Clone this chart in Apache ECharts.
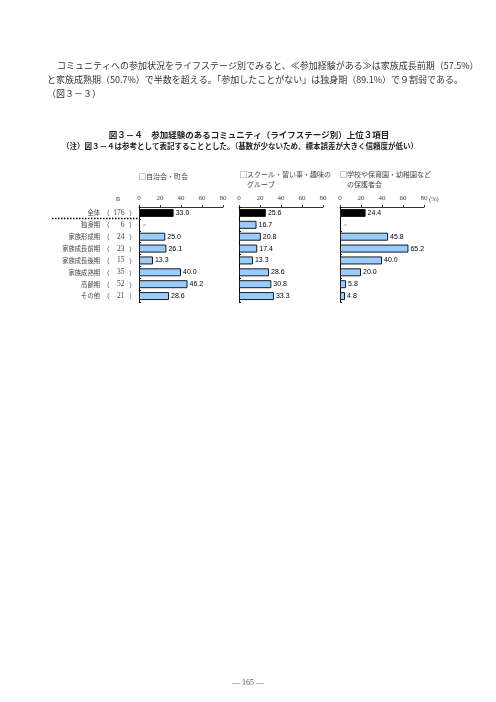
<!DOCTYPE html>
<html><head><meta charset="utf-8">
<script src="https://cdn.jsdelivr.net/npm/echarts@6/dist/echarts.min.js"></script>
<style>html,body{margin:0;padding:0;background:#fff;}#c{width:496px;height:702px;}</style>
</head><body><div id="c"></div>
<script>
// ---- data ----
const categories = ['全体','独身期','家族形成期','家族成長前期','家族成長後期','家族成熟期','高齢期','その他'];
const baseN = [176, 6, 24, 23, 15, 35, 52, 21];
const seriesNames = ['□自治会・町会', '□スクール・習い事・趣味の\n　グループ', '□学校や保育園・幼稚園など\n　の保護者会'];
const jichikai = [33.0, null, 25.0, 26.1, 13.3, 40.0, 46.2, 28.6];
const school   = [25.6, 16.7, 20.8, 17.4, 13.3, 28.6, 30.8, 33.3];
const hogosha  = [24.4, null, 45.8, 65.2, 40.0, 20.0, 5.8, 4.8];
const tickValues = [0, 20, 40, 60, 80];

const allSeries = [jichikai, school, hogosha];
const chart = echarts.init(document.getElementById('c'), null, {renderer: 'canvas'});

const gridLefts = [139, 239, 340];
const axisW = 84;
const gridTop = 207, gridH = 95;
const serif = '"Liberation Serif","DejaVu Serif",serif';
const cjk = '"Noto Sans CJK JP","Noto Sans",sans-serif';
const sans = '"Liberation Sans",Arial,sans-serif';

const grids = [], xAxes = [], yAxes = [], series = [];
const labelAxis = (margin, fmt, family, size) => ({
  type: 'category', gridIndex: 0, data: categories, inverse: true, position: 'left',
  axisLine: {show: false}, axisTick: {show: false}, splitLine: {show: false},
  axisLabel: {show: true, interval: 0, margin: margin, formatter: fmt, fontFamily: family, fontSize: size, color: '#444'}
});
const seriesYIndex = [];
gridLefts.forEach((l, i) => {
  grids.push({left: l, top: gridTop, width: axisW, height: gridH, containLabel: false});
  xAxes.push({
    type: 'value', gridIndex: i, position: 'top', min: tickValues[0], max: tickValues[tickValues.length-1], interval: 20,
    axisLine: {show: true, lineStyle: {color: '#333', width: 1}},
    axisTick: {show: true, length: 2, lineStyle: {color: '#333'}},
    splitLine: {show: false},
    axisLabel: {fontFamily: serif, fontSize: 7, color: '#444', margin: 5}
  });
  seriesYIndex.push(yAxes.length);
  yAxes.push({
    type: 'category', gridIndex: i, data: categories, inverse: true, position: 'left',
    axisLine: {show: true, lineStyle: {color: '#000', width: 1}},
    axisTick: {show: true, inside: true, length: 2, lineStyle: {color: '#000'}},
    axisLabel: i === 0 ? {show: true, interval: 0, margin: 39, fontFamily: cjk, fontSize: 6.3, color: '#444'} : {show: false}
  });
  if (i === 0) {
    yAxes.push(labelAxis(29.5, () => '（', cjk, 6.3));
    yAxes.push(labelAxis(14.5, (v, idx) => String(baseN[idx]), serif, 7.5));
    yAxes.push(labelAxis(3.5, () => '）', cjk, 6.3));
  }
});
gridLefts.forEach((l, i) => {
  series.push({
    type: 'bar', xAxisIndex: i, yAxisIndex: seriesYIndex[i], barWidth: 8,
    data: allSeries[i].map((v, k) => {
      if (v === null) return {value: 0, itemStyle: {borderWidth: 0}, label: {formatter: '－', color: '#333'}};
      return {value: v, itemStyle: {color: k === 0 ? '#000' : '#99ccff', borderColor: '#1a1a1a', borderWidth: 1}};
    }),
    label: {show: true, position: 'right', distance: 2, fontFamily: sans, fontSize: 7, color: '#000',
      formatter: p => p.value.toFixed(1)},
    animation: false
  });
});

function txt(t, x, y, family, size, opts) {
  return {type: 'text', x, y, style: Object.assign({text: t, fontFamily: family, fontSize: size, fill: '#333'}, opts || {})};
}

const graphics = [
  txt('コミュニティへの参加状況をライフステージ別でみると、≪参加経験がある≫は家族成長前期（57.5%）', 57, 66, cjk, 9, {textVerticalAlign: 'middle'}),
  txt('と家族成熟期（50.7%）で半数を超える。「参加したことがない」は独身期（89.1%）で９割弱である。', 47, 80, cjk, 9, {textVerticalAlign: 'middle'}),
  txt('（図３－３）', 47, 94, cjk, 9, {textVerticalAlign: 'middle'}),
  txt('図３－４　参加経験のあるコミュニティ（ライフステージ別）上位３項目', 249, 135, cjk, 8.5, {fontWeight: 'bold', textAlign: 'center', textVerticalAlign: 'middle', fill: '#222'}),
  txt('（注）図３－４は参考として表記することとした。（基数が少ないため、標本誤差が大きく信頼度が低い）', 240, 146, cjk, 7.5, {fontWeight: 'bold', textAlign: 'center', textVerticalAlign: 'middle', fill: '#222'}),
  txt(seriesNames[0], 139, 176, cjk, 7, {textVerticalAlign: 'middle', fill: '#444'}),
  txt(seriesNames[1], 240, 170, cjk, 7, {lineHeight: 9.5, fill: '#444'}),
  txt(seriesNames[2], 340, 170, cjk, 7, {lineHeight: 9.5, fill: '#444'}),
  txt('n', 118, 199, serif, 8, {textAlign: 'center', textVerticalAlign: 'middle', fill: '#444'}),
  txt('(%)', 429, 199, serif, 6.5, {textVerticalAlign: 'middle', fill: '#444'}),
  {type: 'line', shape: {x1: 52, y1: 218.5, x2: 138, y2: 218.5}, style: {stroke: '#000', lineWidth: 1.5, lineDash: [1.5, 1.5]}},
  txt('― 165 ―', 248, 683, serif, 8, {textAlign: 'center', textVerticalAlign: 'middle', fill: '#555'})
];

chart.setOption({
  animation: false,
  backgroundColor: '#fff',
  grid: grids, xAxis: xAxes, yAxis: yAxes, series: series,
  graphic: graphics
});
</script>
</body></html>
